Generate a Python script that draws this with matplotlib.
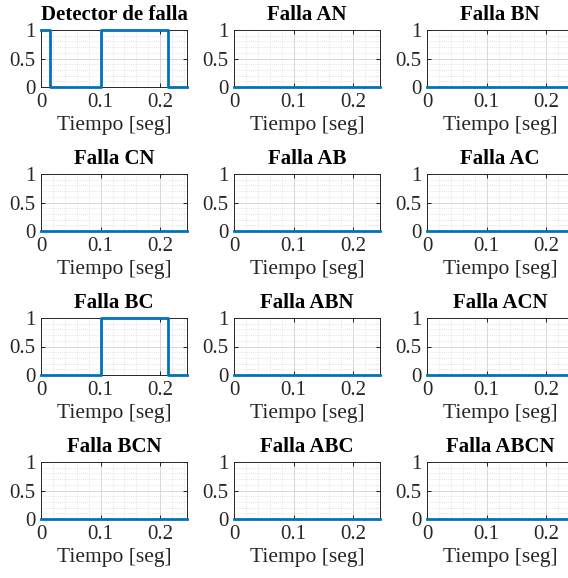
import matplotlib
matplotlib.use('Agg')
import matplotlib.pyplot as plt
from matplotlib.ticker import MultipleLocator

# ── DATA ──────────────────────────────────────────────────────────────────────
titles = ["Detector de falla", "Falla AN", "Falla BN",
          "Falla CN", "Falla AB", "Falla AC",
          "Falla BC", "Falla ABN", "Falla ACN",
          "Falla BCN", "Falla ABC", "Falla ABCN"]

# step signals (value holds from each time until the next)
t_steps   = [0, 0.015, 0.1, 0.213, 0.245]
detector  = [1, 0, 1, 0, 0]
falla_bc  = [0, 0, 1, 0, 0]
zero_sig  = [0, 0, 0, 0, 0]

signals = [detector, zero_sig, zero_sig,
           zero_sig, zero_sig, zero_sig,
           falla_bc, zero_sig, zero_sig,
           zero_sig, zero_sig, zero_sig]

x_ticks = [0, 0.1, 0.2]
x_tick_labels = ["0", "0.1", "0.2"]
y_ticks = [0, 0.5, 1]
y_tick_labels = ["0", "0.5", "1"]

# ── PLOT ──────────────────────────────────────────────────────────────────────
plt.rcParams['font.family'] = ['Liberation Serif', 'DejaVu Serif']

W, H = 568, 578
fig = plt.figure(figsize=(W / 100, H / 100), dpi=100)

col_left = [41, 234, 427]
row_top = [30, 174, 318, 462]
ax_w, ax_h = 146, 57

for i, (title, sig) in enumerate(zip(titles, signals)):
    r, c = divmod(i, 3)
    ax = fig.add_axes([col_left[c] / W, 1 - (row_top[r] + ax_h) / H, ax_w / W, ax_h / H])
    ax.step(t_steps, sig, where='post', color='#0072BD', lw=2.0,
            clip_on=False, zorder=5)
    ax.set_xlim(0, 0.245)
    ax.set_ylim(0, 1)
    ax.set_xticks(x_ticks)
    ax.set_xticklabels(x_tick_labels)
    ax.set_yticks(y_ticks)
    ax.set_yticklabels(y_tick_labels)
    ax.xaxis.set_minor_locator(MultipleLocator(0.02))
    ax.yaxis.set_minor_locator(MultipleLocator(0.1))
    ax.grid(True, which='major', color='#d9d9d9', lw=0.7)
    ax.grid(True, which='minor', color='#cccccc', lw=0.5, linestyle=(0, (1, 2)))
    ax.tick_params(which='both', direction='in', top=True, right=True,
                   labelsize=15, length=3, width=0.6, pad=4.5, labelcolor='#262626')
    ax.tick_params(axis='y', pad=4)
    ax.tick_params(which='minor', length=0)
    for sp in ax.spines.values():
        sp.set_linewidth(0.7)
        sp.set_color('#262626')
    ax.set_title(title, fontsize=15, fontweight='bold', pad=7)
    ax.set_xlabel("Tiempo [seg]", fontsize=15.5, labelpad=3, color='#262626')

plt.savefig("out.png", dpi=100)
